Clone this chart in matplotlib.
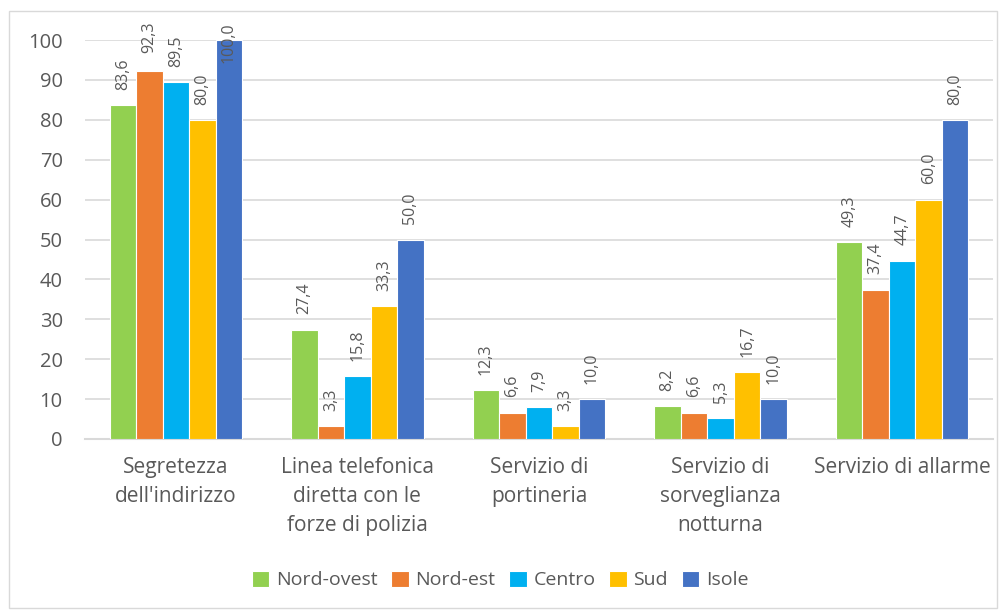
import matplotlib
matplotlib.use('Agg')
import matplotlib.pyplot as plt
from matplotlib.patches import Rectangle
import numpy as np

categories = ["Segretezza\ndell'indirizzo",
              "Linea telefonica\ndiretta con le\nforze di polizia",
              "Servizio di\nportineria",
              "Servizio di\nsorveglianza\nnotturna",
              "Servizio di allarme"]
series_names = ["Nord-ovest", "Nord-est", "Centro", "Sud", "Isole"]
nord_ovest = [83.6, 27.4, 12.3, 8.2, 49.3]
nord_est = [92.3, 3.3, 6.6, 6.6, 37.4]
centro = [89.5, 15.8, 7.9, 5.3, 44.7]
sud = [80.0, 33.3, 3.3, 16.7, 60.0]
isole = [100.0, 50.0, 10.0, 10.0, 80.0]
yticks = [0, 10, 20, 30, 40, 50, 60, 70, 80, 90, 100]

series = [nord_ovest, nord_est, centro, sud, isole]
colors = ['#92D050', '#ED7D31', '#00B0F0', '#FFC000', '#4472C4']
text_color = '#595959'

plt.rcParams['font.family'] = ['Open Sans', 'DejaVu Sans']

fig = plt.figure(figsize=(10.07, 6.14), dpi=100)
ax = fig.add_axes([85 / 1007, 175 / 614, 908 / 1007, 399 / 614])

# outer chart frame
fig.patches.append(Rectangle((9 / 1007, 6 / 614), 988 / 1007, 597 / 614,
                             transform=fig.transFigure, fill=False,
                             edgecolor='#D9D9D9', linewidth=1))

x = np.arange(len(categories))
width = 0.146
ymax = 100
for i, (vals, name, col) in enumerate(zip(series, series_names, colors)):
    offs = (i - 2) * width
    bars = ax.bar(x + offs, vals, width, color=col, edgecolor='white',
                  linewidth=0.8, label=name, zorder=3)
    for b, v in zip(bars, vals):
        lbl = f"{v:.1f}".replace('.', ',')
        cx = b.get_x() + b.get_width() / 2
        if v > ymax - 10:
            # no room above the bar: push the label down so it stays in the frame
            ax.annotate(lbl, (cx, ymax), xytext=(0, 13),
                        textcoords='offset points', rotation=90,
                        ha='center', va='top', fontsize=11.5, color=text_color,
                        zorder=4)
        else:
            ax.annotate(lbl, (cx, v), xytext=(0, 11),
                        textcoords='offset points', rotation=90,
                        ha='center', va='bottom', fontsize=11.5,
                        color=text_color, zorder=4)

ax.set_xlim(-0.5, len(categories) - 0.5)
ax.set_ylim(0, ymax)
ax.set_yticks(yticks)
ax.set_xticks(x)
ax.set_xticklabels(categories, fontsize=15, color=text_color, linespacing=1.5,
                   va='top')
ax.tick_params(axis='y', labelsize=14.5, labelcolor=text_color, length=0, pad=16)
ax.tick_params(axis='x', length=0, pad=13)
ax.grid(axis='y', color='#D9D9D9', linewidth=1.2, zorder=0)
for s in ['top', 'right', 'left']:
    ax.spines[s].set_visible(False)
ax.spines['bottom'].set_color('#D9D9D9')
ax.spines['bottom'].set_linewidth(1.5)

fig.legend(loc='center', bbox_to_anchor=(500 / 1007, 34 / 614), ncol=5,
           frameon=False, fontsize=14, labelcolor=text_color,
           handlelength=0.9, handleheight=0.9, handletextpad=0.35,
           columnspacing=0.7)

fig.savefig('out.png', dpi=100)
